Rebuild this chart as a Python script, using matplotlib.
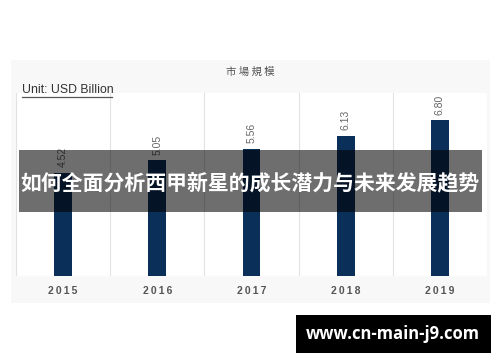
import matplotlib
matplotlib.use("Agg")
import matplotlib.pyplot as plt
from matplotlib.patches import Rectangle

plt.rcParams['font.family'] = ['Noto Sans CJK SC', 'DejaVu Sans']

years = ["2015", "2016", "2017", "2018", "2019"]
values = [4.52, 5.05, 5.56, 6.13, 6.80]
value_labels = ["4.52", "5.05", "5.56", "6.13", "6.80"]
title = "市 場 規 模"
unit_text = "Unit: USD Billion"
banner_text = "如何全面分析西甲新星的成长潜力与未来发展趋势"
watermark = "www.cn-main-j9.com"

W, H = 500, 362
fig = plt.figure(figsize=(W / 100, H / 100), dpi=100)
fig.patch.set_facecolor("white")

def fx(x):
    return x / W

def fy(y):
    return 1 - y / H

# light panel background
fig.patches.append(Rectangle((fx(11), fy(303)), fx(490) - fx(11), fy(60) - fy(303),
                             transform=fig.transFigure, facecolor="#f8f8f8",
                             edgecolor="none", zorder=-5))

ax = fig.add_axes([fx(16), fy(276), fx(487) - fx(16), fy(93) - fy(276)])
ax.set_zorder(1)
ax.set_facecolor("white")
x = list(range(len(years)))
ax.bar(x, values, width=0.19, color="#0a2f58", zorder=3)
ax.set_xlim(-0.5, len(years) - 0.5)
ax.set_ylim(0, 8.0)
for xv in [i - 0.5 for i in range(len(years) + 1)]:
    ax.axvline(xv, color="#e2e2e2", lw=0.8, zorder=1)
ax.axhline(0, color="#e2e2e2", lw=0.8, zorder=1)
for s in ax.spines.values():
    s.set_visible(False)
ax.set_yticks([])
ax.set_xticks(x)
ax.set_xticklabels(["\u2009".join(y) for y in years], fontsize=7.5, fontweight="bold",
                   color="#555555", family=["Liberation Sans", "DejaVu Sans"])
ax.tick_params(axis="x", length=0, pad=7)
for xi, v, t in zip(x, values, value_labels):
    ax.annotate(t, (xi, v), xytext=(0, 4), textcoords="offset points",
                rotation=90, ha="center", va="bottom", fontsize=7.5,
                color="#666666", family=["Liberation Sans", "DejaVu Sans"], zorder=4)

fig.text(fx(250), fy(72), title, ha="center", va="center", fontsize=7.5,
         color="#555555", zorder=5)
fig.text(fx(22), fy(90), unit_text, ha="left", va="center", fontsize=8.8,
         color="#333333", family=["Liberation Sans", "DejaVu Sans"], zorder=5)
fig.add_artist(plt.Line2D([fx(22), fx(112)], [fy(96.5), fy(96.5)],
                          transform=fig.transFigure, color="#555555", lw=0.9,
                          zorder=5))

# banner overlay
fig.patches.append(Rectangle((fx(19), fy(212)), fx(482) - fx(19), fy(150) - fy(212),
                             transform=fig.transFigure, facecolor="black",
                             alpha=0.57, edgecolor="none", zorder=10))
fig.text(fx(250), fy(183), banner_text, ha="center", va="center", fontsize=15,
         fontweight="bold", color="white", zorder=11)

# watermark box
fig.patches.append(Rectangle((fx(296), fy(353)), fx(491) - fx(296), fy(315) - fy(353),
                             transform=fig.transFigure, facecolor="black",
                             edgecolor="none", zorder=10))
fig.text(fx(393), fy(334), watermark, ha="center", va="center", fontsize=12,
         fontweight="bold", color="white", family=["Open Sans", "DejaVu Sans"],
         zorder=11)

fig.savefig("out.png", dpi=100)
